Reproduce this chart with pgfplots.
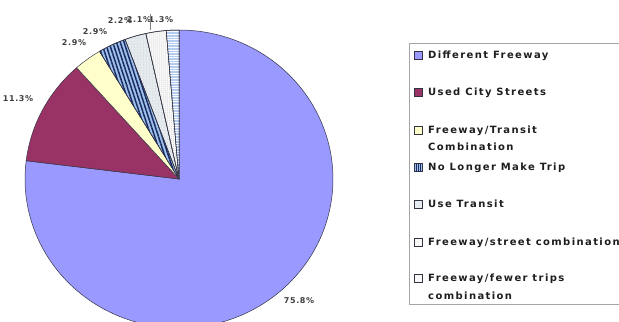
\documentclass[border=0pt]{standalone}
\usepackage{pgfplots}
\pgfplotsset{compat=1.18}
\usepackage{fontspec}
\setmainfont{DejaVu Sans}
\newfontfamily\legfont[LetterSpace=14]{DejaVu Sans}
\newfontfamily\labfont[LetterSpace=8]{DejaVu Sans}
\usetikzlibrary{patterns,patterns.meta}
\definecolor{cA}{HTML}{9999FF}
\definecolor{cB}{HTML}{993366}
\definecolor{cC}{HTML}{FFFFCC}
\definecolor{cD}{HTML}{9EC2EC}
\definecolor{cDl}{HTML}{1A2A60}
\definecolor{cE}{HTML}{E4EAEE}
\definecolor{cF}{HTML}{F8F8F8}
\definecolor{cG}{HTML}{B4CCF0}
\definecolor{edge}{HTML}{333344}
\definecolor{txt}{HTML}{1E1E1E}
% slice values (percent labels of the chart)
\def\vA{75.8}\def\vB{11.3}\def\vC{2.9}\def\vD{2.9}\def\vE{2.2}\def\vF{2.1}\def\vG{1.3}
\pgfmathsetmacro\T{\vA+\vB+\vC+\vD+\vE+\vF+\vG}
\pgfmathsetmacro\aA{0}
\pgfmathsetmacro\aB{\aA+\vA/\T*360}
\pgfmathsetmacro\aC{\aB+\vB/\T*360}
\pgfmathsetmacro\aD{\aC+\vC/\T*360}
\pgfmathsetmacro\aE{\aD+\vD/\T*360}
\pgfmathsetmacro\aF{\aE+\vE/\T*360}
\pgfmathsetmacro\aG{\aF+\vF/\T*360}
\pgfmathsetmacro\aH{360}
\tikzset{
  sA/.style={fill=cA},
  sB/.style={fill=cB},
  sC/.style={fill=cC},
  sD/.style={fill=cD, postaction={pattern={Lines[angle=-72,distance=3.6pt,line width=1.5pt]}, pattern color=cDl}},
  sE/.style={fill=cE, postaction={pattern={Dots[distance=3pt,radius=0.3pt]}, pattern color=gray!60}},
  sF/.style={fill=cF, postaction={pattern={Dots[distance=2pt,radius=0.3pt]}, pattern color=gray!70}},
  sG/.style={fill=cG, postaction={pattern={Lines[angle=0,distance=2.6pt,line width=1pt]}, pattern color=white}},
  lab/.style={font=\labfont\bfseries\fontsize{8bp}{9bp}\selectfont, text=txt!85, inner sep=0pt},
  leg/.style={font=\legfont\bfseries\fontsize{10bp}{12bp}\selectfont, text=txt, inner sep=0pt, anchor=base west},
}
\begin{document}
\begin{tikzpicture}
\begin{axis}[
  width=619bp, height=322bp, scale only axis,
  xmin=0, xmax=619, ymin=0, ymax=322, y dir=reverse,
  hide axis, clip=true,
]
\addplot[sA, draw=edge, line width=0.5pt, domain=\aA:\aB, samples=120, variable=\t] ({179+154*sin(\t)}, {179-149*cos(\t)}) -- (axis cs:179,179) -- cycle;
\addplot[sB, draw=edge, line width=0.5pt, domain=\aB:\aC, samples=30, variable=\t] ({179+154*sin(\t)}, {179-149*cos(\t)}) -- (axis cs:179,179) -- cycle;
\addplot[sC, draw=edge, line width=0.5pt, domain=\aC:\aD, samples=10, variable=\t] ({179+154*sin(\t)}, {179-149*cos(\t)}) -- (axis cs:179,179) -- cycle;
\addplot[sD, draw=edge, line width=0.5pt, domain=\aD:\aE, samples=10, variable=\t] ({179+154*sin(\t)}, {179-149*cos(\t)}) -- (axis cs:179,179) -- cycle;
\addplot[sE, draw=edge, line width=0.5pt, domain=\aE:\aF, samples=10, variable=\t] ({179+154*sin(\t)}, {179-149*cos(\t)}) -- (axis cs:179,179) -- cycle;
\addplot[sF, draw=edge, line width=0.5pt, domain=\aF:\aG, samples=10, variable=\t] ({179+154*sin(\t)}, {179-149*cos(\t)}) -- (axis cs:179,179) -- cycle;
\addplot[sG, draw=edge, line width=0.5pt, domain=\aG:\aH, samples=10, variable=\t] ({179+154*sin(\t)}, {179-149*cos(\t)}) -- (axis cs:179,179) -- cycle;
% data labels
\node[lab] at (axis cs:299,301) {75.8\%};
\node[lab] at (axis cs:18,99) {11.3\%};
\node[lab] at (axis cs:74,43) {2.9\%};
\node[lab] at (axis cs:95,32) {2.9\%};
\node[lab] at (axis cs:120,21) {2.2\%};
\node[lab] at (axis cs:139,20) {2.1\%};
\node[lab] at (axis cs:161,20) {1.3\%};
\draw[gray, line width=0.5pt] (axis cs:150,14) -- (axis cs:150,30);
% legend
\draw[gray!70, line width=0.8pt] (axis cs:625,43) -- (axis cs:409,43) -- (axis cs:409,304) -- (axis cs:625,304);
\draw[edge, line width=0.3pt, sA] (axis cs:414,51.5) rectangle (axis cs:422,59.5);
\draw[edge, line width=0.3pt, sB] (axis cs:414,88.5) rectangle (axis cs:422,96.5);
\draw[edge, line width=0.3pt, sC] (axis cs:414,126.5) rectangle (axis cs:422,134.5);
\draw[edge, line width=0.3pt, fill=cD] (axis cs:414,163.5) rectangle (axis cs:422,171.5);
\draw[cDl, line width=0.6pt] (axis cs:416,163.5) -- (axis cs:416,171.5);
\draw[cDl, line width=0.6pt] (axis cs:418,163.5) -- (axis cs:418,171.5);
\draw[cDl, line width=0.6pt] (axis cs:420,163.5) -- (axis cs:420,171.5);
\draw[edge, line width=0.3pt, fill=cE] (axis cs:414,200.5) rectangle (axis cs:422,208.5);
\draw[edge, line width=0.3pt, fill=cF] (axis cs:414,238.5) rectangle (axis cs:422,246.5);
\draw[edge, line width=0.3pt, fill=cF] (axis cs:414,274.5) rectangle (axis cs:422,282.5);
\node[leg] at (axis cs:428,58.6) {Different Freeway};
\node[leg] at (axis cs:428,95.6) {Used City Streets};
\node[leg] at (axis cs:428,133.6) {Freeway/Transit};
\node[leg] at (axis cs:428,150.6) {Combination};
\node[leg] at (axis cs:428,170.6) {No Longer Make Trip};
\node[leg] at (axis cs:428,207.6) {Use Transit};
\node[leg] at (axis cs:428,245.6) {Freeway/street combination};
\node[leg] at (axis cs:428,281.6) {Freeway/fewer trips};
\node[leg] at (axis cs:428,299.6) {combination};
\end{axis}
\pgfresetboundingbox
\path[use as bounding box] (current axis.south west) rectangle (current axis.north east);
\end{tikzpicture}
\end{document}
